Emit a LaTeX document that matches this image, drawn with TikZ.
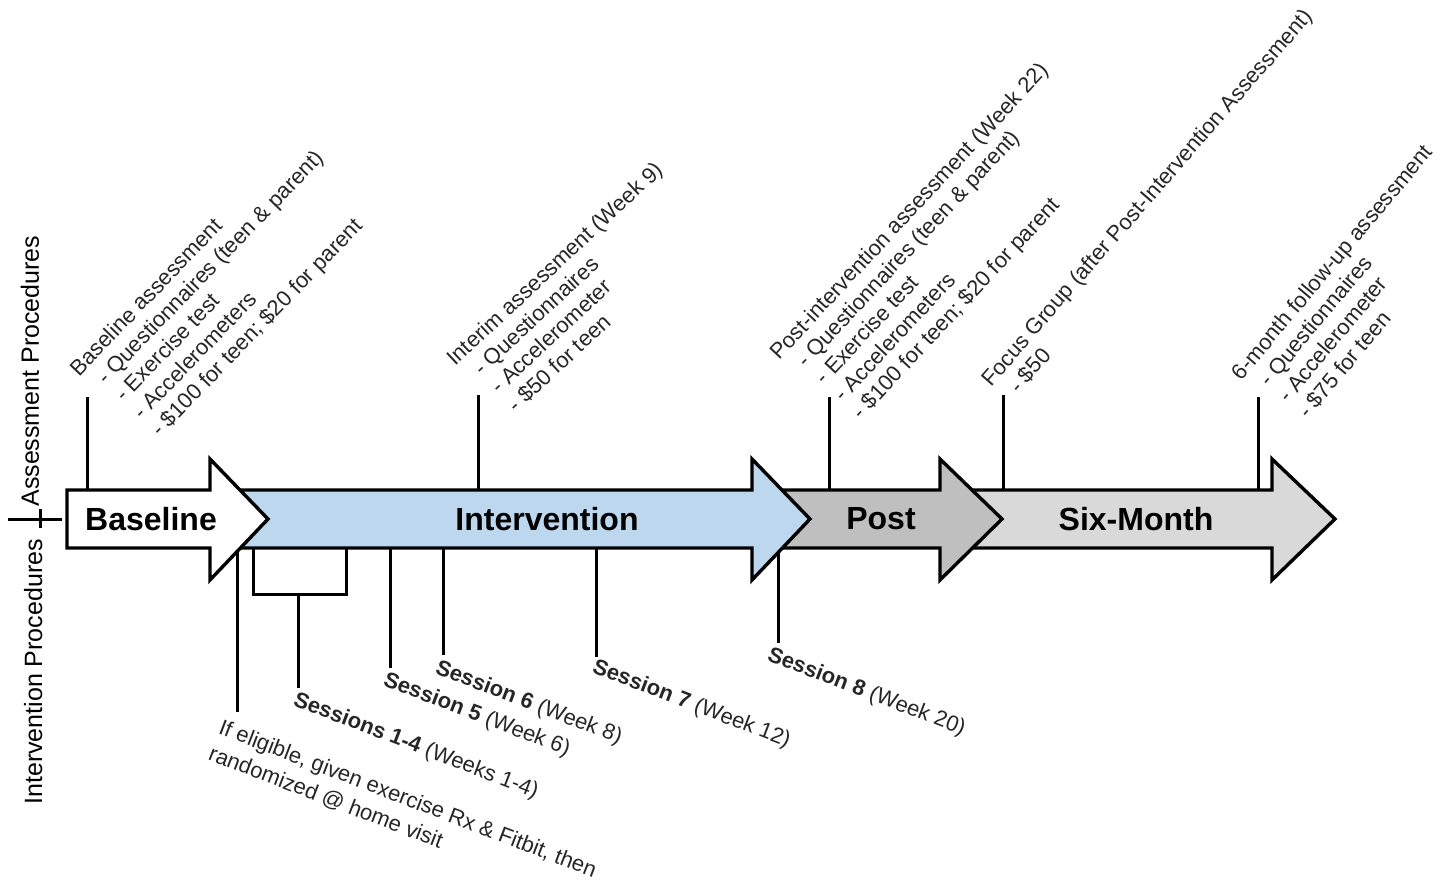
\documentclass[tikz,border=0pt]{standalone}
\usepackage{fontspec}
\setmainfont{Liberation Sans}
\usepackage{xcolor}
\usetikzlibrary{positioning,calc}

\definecolor{ivblue}{HTML}{BDD7EE}
\definecolor{postgray}{HTML}{BFBFBF}
\definecolor{sixgray}{HTML}{D9D9D9}

\begin{document}
\begin{tikzpicture}[x=0.5pt, y=-0.5pt,
  phase/.style={draw=black, line width=1.7pt, line join=miter},
  phasetext/.style={font=\fontsize{16}{19}\selectfont\bfseries},
  tick/.style={line width=1.5pt},
  toplabel/.style={rotate=#1, anchor=north west, align=left, inner sep=0pt, text=black!85, font=\fontsize{11}{12.6}\selectfont},
  toplabel/.default=47.5,
  sesslabel/.style={rotate=-21, anchor=base west, align=left, inner sep=0pt, text=black!85, font=\fontsize{11}{14}\selectfont},
  sidelabel/.style={rotate=90, anchor=base west, inner sep=0pt, font=\fontsize{12.5}{15}\selectfont}]
  \useasboundingbox (0,0) rectangle (1447,884);

  % arrow body edges
  \coordinate (bodytop) at (0,490);
  \coordinate (bodybot) at (0,548);

  % assessment ticks (top)
  \coordinate (tb) at (87,397);
  \coordinate (ti) at (478,395);
  \coordinate (tp) at (829,397);
  \coordinate (tf) at (1003,395);
  \coordinate (ts) at (1258,397);
  \foreach \t in {tb,ti,tp,tf,ts}
    \draw[tick] (\t) -- (\t |- bodytop);

  % intervention ticks (bottom)
  \coordinate (be) at (237,712);
  \coordinate (s14) at (298,688);
  \coordinate (s5) at (390,668);
  \coordinate (s6) at (443,655);
  \coordinate (s7) at (596,657);
  \coordinate (s8) at (778,643);
  \coordinate (brl) at (253,594);
  \coordinate (brr) at (346,594);
  \foreach \t in {be,s5,s6,s7,s8}
    \draw[tick] (\t |- bodybot) -- (\t);
  \draw[tick] (brl |- bodybot) -- (brl) -- (brr) -- (brr |- bodybot);
  \draw[tick] (s14 |- brl) -- (s14);

  % phase arrows, back to front
  \draw[phase, fill=sixgray] (955,490) -- (1272,490) -- (1272,459) -- (1335,519) -- (1272,580) -- (1272,548) -- (955,548) -- cycle;
  \draw[phase, fill=postgray] (765,490) -- (940,490) -- (940,459) -- (1002,519) -- (940,580) -- (940,548) -- (765,548) -- cycle;
  \draw[phase, fill=ivblue] (225,490) -- (752,490) -- (752,459) -- (810,519) -- (752,580) -- (752,548) -- (225,548) -- cycle;
  \draw[phase, fill=white] (67,490) -- (210,490) -- (210,459) -- (268,519) -- (210,580) -- (210,548) -- (67,548) -- cycle;

  \node[phasetext] (base) at (151,519) {Baseline};
  \node[phasetext] (ivn) at (547,519) {Intervention};
  \node[phasetext] (post) at (881,519) {Post};
  \node[phasetext] (six) at (1136,519) {Six-Month};

  % assessment labels
  \node[toplabel=46] (lbb) at ([shift={(-20,-31)}]tb) {Baseline assessment\\\hspace*{6.5pt}- Questionnaires (teen \& parent)\\\hspace*{6.5pt}- Exercise test\\\hspace*{6.5pt}- Accelerometers\\\hspace*{6.5pt}- \$100 for teen; \$20 for parent};
  \node[toplabel=43] (lbi) at ([shift={(-34,-40)}]ti) {Interim assessment (Week 9)\\\hspace*{6.5pt}- Questionnaires\\\hspace*{6.5pt}- Accelerometer\\\hspace*{6.5pt}- \$50 for teen};
  \node[toplabel=47] (lbp) at ([shift={(-62,-47)}]tp) {Post-intervention assessment (Week 22)\\\hspace*{6.5pt}- Questionnaires (teen \& parent)\\\hspace*{6.5pt}- Exercise test\\\hspace*{6.5pt}- Accelerometers\\\hspace*{6.5pt}- \$100 for teen; \$20 for parent};
  \node[toplabel=49] (lbf) at ([shift={(-24,-18)}]tf) {Focus Group (after Post-Intervention Assessment)\\\hspace*{6.5pt}- \$50};
  \node[toplabel=50] (lbs) at ([shift={(-29,-26)}]ts) {6-month follow-up assessment\\\hspace*{6.5pt}- Questionnaires\\\hspace*{6.5pt}- Accelerometer\\\hspace*{6.5pt}- \$75 for teen};

  % intervention labels
  \node[sesslabel, anchor=north west] (lbe) at ([shift={(-14,6)}]be) {If eligible, given exercise Rx \& Fitbit, then\\randomized @ home visit};
  \node[sesslabel] (lb14) at ([shift={(-6,17)}]s14) {\textbf{Sessions 1-4} (Weeks 1-4)};
  \node[sesslabel] (lb5) at ([shift={(-8,17)}]s5) {\textbf{Session 5} (Week 6)};
  \node[sesslabel] (lb6) at ([shift={(-9,18)}]s6) {\textbf{Session 6} (Week 8)};
  \node[sesslabel] (lb7) at ([shift={(-5,15)}]s7) {\textbf{Session 7} (Week 12)};
  \node[sesslabel] (lb8) at ([shift={(-12,17)}]s8) {\textbf{Session 8} (Week 20)};

  % side captions
  \node[sidelabel] (assess) at (39,507) {Assessment Procedures};
  \node[sidelabel] (interv) at (42,805) {Intervention Procedures};
  \coordinate (split) at (40,519);
  \draw[tick] ([shift={(-32,0)}]split) -- ([shift={(22,0)}]split);
  \draw[tick] ([shift={(0,-10)}]split) -- ([shift={(0,9)}]split);
\end{tikzpicture}
\end{document}
